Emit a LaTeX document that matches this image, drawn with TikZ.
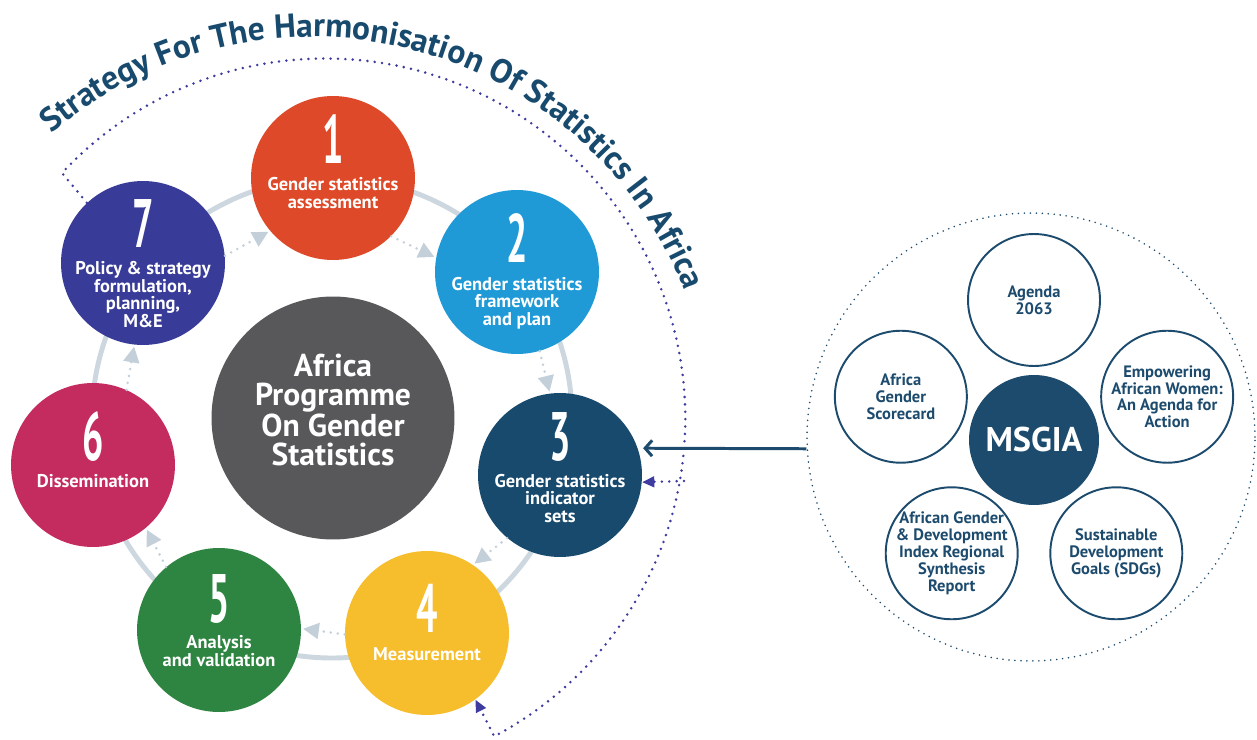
\documentclass[tikz,border=0pt]{standalone}
\usepackage{fontspec}
\setmainfont{PT Sans}
\usepackage{tikz}
\usetikzlibrary{arrows.meta, decorations.text}

\definecolor{stepred}{HTML}{DE4A29}
\definecolor{stepblue}{HTML}{1F9AD6}
\definecolor{stepnavy}{HTML}{184A6E}
\definecolor{stepyellow}{HTML}{F6BD2C}
\definecolor{stepgreen}{HTML}{2E8541}
\definecolor{steppink}{HTML}{C42C5F}
\definecolor{stepindigo}{HTML}{383B97}
\definecolor{hubgray}{HTML}{58585A}
\definecolor{ringgray}{HTML}{CDD7DF}
\definecolor{flowgray}{HTML}{C3CFD9}
\definecolor{dotpurple}{HTML}{3E3C9F}
\definecolor{msnavy}{HTML}{1D4B6D}

\newcommand{\stepnum}[1]{\scalebox{0.55}[1]{#1}}

\tikzset{
  stepnode/.style={circle, minimum size=3.28cm, inner sep=0pt},
  numlabel/.style={text=white, font=\bfseries\fontsize{39}{39}\selectfont, inner sep=0pt, anchor=base},
  steplabel/.style={text=white, font=\bfseries\fontsize{10.5}{9.9}\selectfont, align=center, inner sep=0pt, anchor=base},
  flow/.style={flowgray, line width=1.6pt, line cap=round, dash pattern=on 0pt off 4pt, -{Triangle[length=9pt,width=9pt]}, shorten >=1pt},
  hsdots/.style={dotpurple, line width=1.6pt, line cap=round, dash pattern=on 0pt off 4.2pt},
  refnode/.style={circle, draw=msnavy, line width=1.1pt, minimum size=2.64cm, inner sep=0pt},
  reflabel/.style={text=msnavy, font=\bfseries\fontsize{9.4}{9.6}\selectfont, align=center, inner sep=0pt},
}

\begin{document}
\begin{tikzpicture}[x=0.02cm, y=0.02cm]
\useasboundingbox (0,0) rectangle (1257,-740);

% title along the arc
\path[decorate, decoration={text along path, text align=center, text color=stepnavy,
  text={|\bfseries\fontsize{19}{19}\selectfont|Strategy For The Harmonisation Of Statistics In Africa}}]
  ([shift={(132:400)}]312,-437) arc[start angle=132, end angle=20, radius=400];

% ring behind the steps
\draw[ringgray, line width=2.8pt] (332,-418) circle[radius=240];

% hub
\node[circle, fill=hubgray, minimum size=4.86cm, inner sep=0pt] (hub) at (333,-418) {};
\node[text=white, font=\bfseries\fontsize{18}{16.4}\selectfont, align=center, anchor=base] (hubtext) at (333,-465) {Africa\\Programme\\On Gender\\Statistics};

% seven steps
\node[stepnode, fill=stepred] (s1) at (333,-178) {};
\node[stepnode, fill=stepblue] (s2) at (517,-272) {};
\node[stepnode, fill=stepnavy] (s3) at (560,-475) {};
\node[stepnode, fill=stepyellow] (s4) at (427,-633) {};
\node[stepnode, fill=stepgreen] (s5) at (219,-630) {};
\node[stepnode, fill=steppink] (s6) at (93,-465) {};
\node[stepnode, fill=stepindigo] (s7) at (143,-263) {};

\node[numlabel] (n1) at (333,-163) {\stepnum{1}};
\node[steplabel] (t1) at (333,-208) {Gender statistics\\assessment};
\node[numlabel] (n2) at (517,-262) {\stepnum{2}};
\node[steplabel] (t2) at (517,-325) {Gender statistics\\framework\\and plan};
\node[numlabel] (n3) at (560,-460) {\stepnum{3}};
\node[steplabel] (t3) at (560,-522) {Gender statistics\\indicator\\sets};
\node[numlabel] (n4) at (427,-632) {\stepnum{4}};
\node[steplabel] (t4) at (427,-660) {Measurement};
\node[numlabel] (n5) at (219,-622) {\stepnum{5}};
\node[steplabel] (t5) at (219,-666) {Analysis\\and validation};
\node[numlabel] (n6) at (93,-460) {\stepnum{6}};
\node[steplabel] (t6) at (93,-487) {Dissemination};
\node[numlabel] (n7) at (143,-247) {\stepnum{7}};
\node[steplabel] (t7) at (143,-327) {Policy \& strategy\\formulation,\\planning,\\M\&E};

% flow between the steps
\foreach \a/\b in {s7.5/s1.220, s1.-45/s2.170, s2.-74/s3.97, s3.-130/s4.56, s4.181/s5.1, s5.130/s6.-50, s6.66/s7.-96}
  \draw[flow] (\a) -- (\b);

% dotted strategy frame
\draw[hsdots, -{Triangle[length=7pt,width=6pt]}] (s7.133) -- (62,-173) arc[start angle=137, end angle=-62, radius=360] -- (s4.-54);
\coordinate (branch) at (684,-481);
\draw[hsdots, -{Triangle[length=7pt,width=6pt]}] (branch) -- (s3.-5);

% MSGIA panel
\node[circle, draw=msnavy, line width=1pt, line cap=round, dash pattern=on 0pt off 3.4pt, minimum size=8.96cm, inner sep=0pt] (panel) at (1031,-437) {};
\node[circle, fill=msnavy, minimum size=2.6cm, inner sep=0pt, text=white, font=\bfseries\fontsize{19.5}{19.5}\selectfont] (msgia) at (1034,-440) {MSGIA};
\begin{scope}[shift={(1034,-440)}]
  \node[refnode] (agenda) at (90:140) {};
  \node[refnode] (score) at (162:140) {};
  \node[refnode] (agdi) at (234:140) {};
  \node[refnode] (sdg) at (306:140) {};
  \node[refnode] (awa) at (18:140) {};
\end{scope}
\node[reflabel] (agendatext) at (agenda) {Agenda\\2063};
\node[reflabel] (scoretext) at (score) {Africa\\Gender\\Scorecard};
\node[reflabel] (agditext) at (agdi) {African Gender\\\& Development\\Index Regional\\Synthesis\\Report};
\node[reflabel] (sdgtext) at (sdg) {Sustainable\\Development\\Goals (SDGs)};
\node[reflabel] (awatext) at (awa) {Empowering\\African Women:\\An Agenda for\\Action};

\draw[msnavy, line width=1.7pt, -{Straight Barb[length=4pt,width=9pt]}, shorten >=3pt] (panel.183) -- (s3.19);

\end{tikzpicture}
\end{document}
